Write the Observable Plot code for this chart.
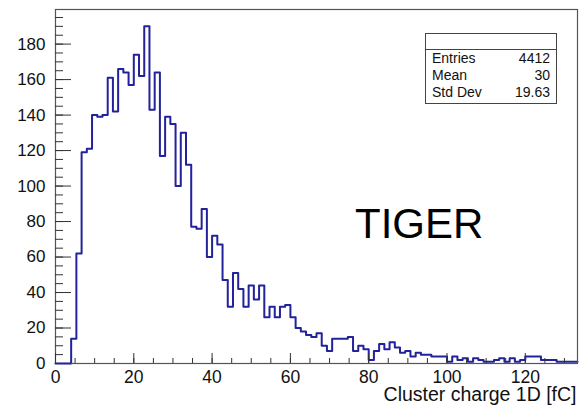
<!DOCTYPE html>
<html>
<head>
<meta charset="utf-8">
<script src="https://cdn.jsdelivr.net/npm/d3@7"></script>
<script src="https://cdn.jsdelivr.net/npm/@observablehq/plot@0.6"></script>
<style>
  html, body { margin: 0; padding: 0; background: #fff; }
  #wrap { position: relative; width: 579px; height: 407px; font-family: "Liberation Sans", Arial, sans-serif; }
  #stats { position: absolute; left: 425px; top: 33px; width: 130px; height: 69px; border: 1px solid #444; background: #fff; font-size: 14px; color: #111; }
  #stats .head { height: 15px; border-bottom: 1px solid #444; }
  #stats .row { display: flex; justify-content: space-between; padding: 0 6px 0 6px; height: 17px; line-height: 17px; }
  #tiger { position: absolute; left: 355px; top: 199px; font-size: 42px; color: #000; line-height: 50px; }
</style>
</head>
<body>
<div id="wrap"></div>
<script>
// Histogram: 100 bins of width 4/3 fC starting at 0
const xMin = 0;
const binWidth = 4 / 3;
const counts = [
  0, 0, 0, 14, 62, 119, 121, 140, 139, 140,
  161, 142, 166, 164, 157, 174, 162, 190, 143, 164,
  117, 139, 135, 100, 130, 112, 77, 76, 87, 60,
  72, 67, 47, 32, 51, 42, 32, 44, 36, 44,
  26, 32, 26, 32, 33, 26, 20, 18, 16, 15,
  17, 10, 7, 14, 14, 14, 15, 7, 10, 8,
  2, 7, 11, 8, 12, 9, 6, 7, 4, 6,
  5, 5, 4, 4, 4, 1, 4, 2, 3, 1,
  3, 2, 1, 1, 2, 3, 1, 3, 1, 2,
  4, 4, 4, 2, 2, 2, 1, 1, 1, 1
];
const xMajorTicks = [0, 20, 40, 60, 80, 100, 120];
const yMajorTicks = [0, 20, 40, 60, 80, 100, 120, 140, 160, 180];
const xMinorTicks = d3.range(0, 131, 5);
const yMinorTicks = d3.range(0, 196, 5);
const statLabels = ["Entries", "Mean", "Std Dev"];
const statValues = ["4412", "30", "19.63"];
const xTitle = "Cluster charge 1D [fC]";
const annotation = "TIGER";

const nBins = counts.length;
const xMax = xMin + nBins * binWidth;
const yMax = 1.05 * d3.max(counts);

const steps = counts.map((c, i) => ({x: xMin + i * binWidth, y: c}));
steps.push({x: xMax, y: counts[nBins - 1]});

const chart = Plot.plot({
  width: 579,
  height: 407,
  marginLeft: 55,
  marginRight: 2,
  marginTop: 9,
  marginBottom: 44,
  style: {fontFamily: '"Liberation Sans", Arial, sans-serif', background: "#fff", color: "#111"},
  x: {domain: [xMin, xMax]},
  y: {domain: [0, yMax]},
  marks: [
    Plot.line(steps, {x: "x", y: "y", curve: "step-after", stroke: "#22229a", strokeWidth: 2}),
    Plot.frame({stroke: "#555", strokeWidth: 1.2}),
    Plot.axisX(xMinorTicks, {tickSize: -5, text: null, stroke: "#333", label: null}),
    Plot.axisX(xMajorTicks, {tickSize: -10, text: null, stroke: "#333", label: null}),
    Plot.axisX(xMajorTicks, {tickSize: 0, tickPadding: 7, fontSize: 17.5, fill: "#111", label: null}),
    Plot.axisY(yMinorTicks, {tickSize: -8, text: null, stroke: "#333", label: null}),
    Plot.axisY(yMajorTicks, {tickSize: -16, text: null, stroke: "#333", label: null}),
    Plot.axisY(yMajorTicks, {tickSize: 0, tickPadding: 10, fontSize: 17, fill: "#111", label: null}),
    Plot.text([xTitle], {frameAnchor: "bottom-right", textAnchor: "end", dy: 37, dx: -1, fontSize: 19.5, fill: "#111"})
  ]
});
const wrap = document.getElementById("wrap");
wrap.appendChild(chart);

const stats = document.createElement("div");
stats.id = "stats";
let html = '<div class="head"></div>';
statLabels.forEach((l, i) => {
  html += `<div class="row"><span>${l}</span><span>${statValues[i]}</span></div>`;
});
stats.innerHTML = html;
wrap.appendChild(stats);

const tiger = document.createElement("div");
tiger.id = "tiger";
tiger.textContent = annotation;
wrap.appendChild(tiger);
</script>
</body>
</html>
